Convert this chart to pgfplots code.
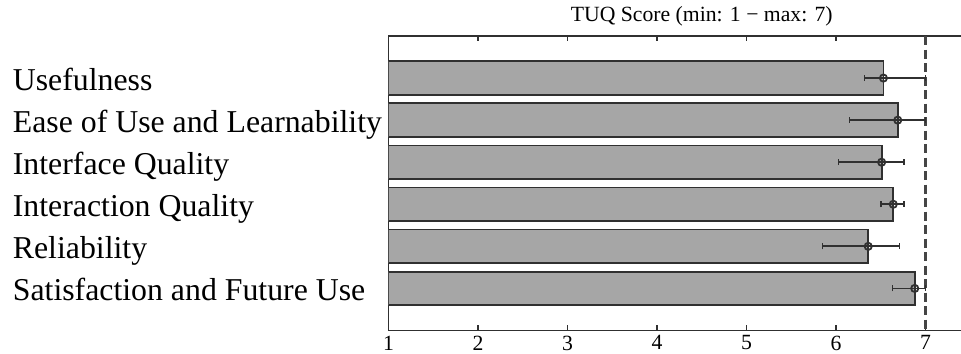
\documentclass[border=0pt]{standalone}
\usepackage{fontspec}
\setmainfont{Liberation Serif}
\usepackage{pgfplots}
\pgfplotsset{compat=1.18}
\definecolor{barfill}{HTML}{A6A6A6}
\definecolor{edge}{HTML}{303030}
\definecolor{dashc}{HTML}{454545}
\begin{document}
\begin{tikzpicture}
\begin{axis}[
  name=ax,
  scale only axis,
  width=626.5pt, height=294.5pt,
  xmin=1, xmax=8, ymin=0, ymax=7,
  y dir=reverse,
  xtick={1,2,3,4,5,6,7},
  ytick={1,2,3,4,5,6},
  yticklabels={Usefulness,Ease of Use and Learnability,Interface Quality,Interaction Quality,Reliability,Satisfaction and Future Use},
  yticklabel style={anchor=base west, inner sep=0pt, xshift=-375.8pt, yshift=-12.5pt, font=\fontsize{31.8}{36}\selectfont},
  xticklabel style={font=\fontsize{21.7}{24}\selectfont, inner sep=0pt, yshift=-5pt},
  /pgf/number format/assume math mode=true,
  ytick style={draw=none},
  xtick style={edge, line width=1.3pt},
  major tick length=5pt,
  tick align=inside,
  axis line style={edge, line width=1.6pt},
  title={TUQ Score (min: 1 − max: 7)},
  title style={font=\fontsize{21.7}{24}\selectfont, anchor=base, inner sep=0pt, yshift=8.3pt},
  clip=true,
]
\addplot[xbar, bar width=33.6pt, fill=barfill, draw=edge, line width=1.8pt]
  coordinates {(6.53,1) (6.69,2) (6.51,3) (6.64,4) (6.36,5) (6.88,6)};
\addplot[draw=dashc, line width=2.2pt, dash pattern=on 9pt off 4.5pt]
  coordinates {(7,0) (7,7)};
\addplot[only marks, mark=o, mark size=3.6pt, edge, line width=1.8pt,
  error bars/.cd, x dir=both, x explicit,
  error bar style={edge, line width=1.8pt},
  error mark options={edge, mark size=3pt, rotate=90, line width=1.6pt}]
  coordinates {
    (6.53,1) += (0.47,0) -= (0.21,0)
    (6.69,2) += (0.31,0) -= (0.54,0)
    (6.51,3) += (0.25,0) -= (0.48,0)
    (6.64,4) += (0.12,0) -= (0.14,0)
    (6.36,5) += (0.35,0) -= (0.51,0)
    (6.88,6) += (0.12,0) -= (0.25,0)
  };
\end{axis}
\pgfresetboundingbox
\path[use as bounding box] ([xshift=-388.5pt,yshift=-23.5pt]ax.south west) rectangle ([xshift=572.5pt,yshift=36pt]ax.north west);
\end{tikzpicture}
\end{document}
